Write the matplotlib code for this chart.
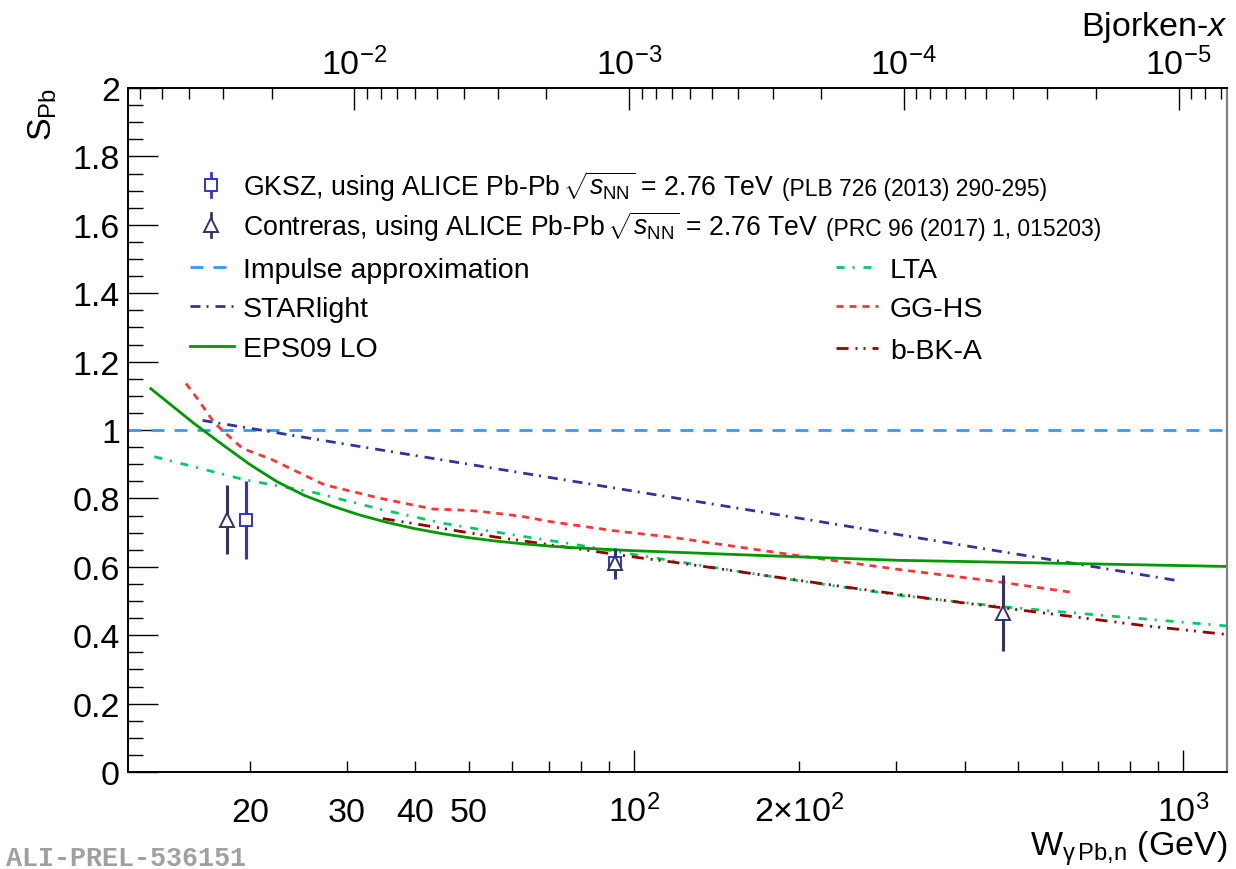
import numpy as np
import matplotlib
matplotlib.use('Agg')
import matplotlib.pyplot as plt
from matplotlib.ticker import FixedLocator, FuncFormatter
from matplotlib.lines import Line2D

plt.rcParams['font.family'] = ['Liberation Sans', 'DejaVu Sans']
plt.rcParams['mathtext.fontset'] = 'custom'
plt.rcParams['mathtext.rm'] = 'Liberation Sans'
plt.rcParams['mathtext.it'] = 'Liberation Sans:italic'
plt.rcParams['mathtext.bf'] = 'Liberation Sans:bold'
plt.rcParams['lines.scale_dashes'] = False

# ---------------- data ----------------
gksz_W = [19.7, 92.4]
gksz_S = [0.738, 0.610]
gksz_err = [0.114, 0.045]

contreras_W = [18.2, 92.4, 469]
contreras_S = [0.738, 0.612, 0.465]
contreras_err = [0.100, 0.040, 0.110]

impulse_W = [12, 1200]
impulse_S = [1.0, 1.0]

starlight_W = [16.4, 20, 30, 50, 100, 200, 400, 700, 980]
starlight_S = [1.028, 1.005, 0.958, 0.900, 0.821, 0.742, 0.662, 0.598, 0.559]

eps09_W = [13.2, 14.1, 15.8, 17.8, 20.0, 22.4, 25.1, 28.2, 31.6, 35.5, 39.8, 44.7, 50.1,
           56.2, 63.1, 70.8, 79.4, 100, 126, 158, 200, 302, 562, 1200]
eps09_S = [1.121, 1.084, 1.020, 0.958, 0.899, 0.849, 0.809, 0.778, 0.752, 0.730, 0.712, 0.697, 0.685,
           0.675, 0.667, 0.660, 0.655, 0.647, 0.641, 0.635, 0.629, 0.619, 0.611, 0.601]

lta_W = [13.4, 19.5, 26.2, 34.6, 45, 61, 75, 100, 150, 200, 310, 470, 700, 1200]
lta_S = [0.922, 0.855, 0.817, 0.768, 0.727, 0.692, 0.670, 0.636, 0.590, 0.559, 0.515, 0.483, 0.459, 0.427]

gghs_W = [15.3, 16.1, 17.2, 18.6, 19.4, 21.9, 27.3, 34.6, 43.0, 49.8, 52.5, 57.2, 62.2, 70.5, 92.4, 117.7, 200, 304, 461, 634]
gghs_S = [1.136, 1.089, 1.022, 0.972, 0.946, 0.914, 0.840, 0.800, 0.769, 0.765, 0.762, 0.755, 0.748, 0.732, 0.705, 0.686, 0.632, 0.592, 0.556, 0.524]

bbk_W = [34.9, 41.3, 48.1, 56, 65.3, 75.6, 87.5, 101.7, 118.7, 138, 161, 187, 250, 342, 469, 624, 848, 1200]
bbk_S = [0.741, 0.722, 0.704, 0.687, 0.672, 0.657, 0.642, 0.627, 0.613, 0.598, 0.582, 0.567, 0.538, 0.508, 0.480, 0.455, 0.428, 0.402]

x_labels = {20: '20', 30: '30', 40: '40', 50: '50', 100: r'$10^{2}$',
            200: r'$2{\times}10^{2}$', 1000: r'$10^{3}$'}
bj_major = [1e-2, 1e-3, 1e-4, 1e-5]
bj_labels = [r'$10^{-2}$', r'$10^{-3}$', r'$10^{-4}$', r'$10^{-5}$']
M_JPSI = 3.097

# ---------------- styles ----------------
C_IMP = '#3399ff'
C_STAR = '#333399'
C_EPS = '#009900'
C_LTA = '#00cc66'
C_GG = '#ff3333'
C_BBK = '#990000'
C_GKSZ = '#3333cc'
C_CON = '#333366'

P = 1 / 1.389  # px -> pt
LS_IMP = (0, (13 * P, 10 * P))
LS_STAR = (0, (10 * P, 6 * P, 2 * P, 7 * P))
LS_GG = (0, (7 * P, 6 * P))
LS_LTA = (0, (8 * P, 8 * P, 2 * P, 9 * P))
LS_BBK = (0, (12 * P, 7 * P, 2 * P, 6 * P, 2 * P, 7 * P))
LW = 2.0

FW, FH = 1236, 870
fig = plt.figure(figsize=(FW / 100, FH / 100), dpi=100)
L, R, T, B = 128, 1227, 89, 773
ax = fig.add_axes([L / FW, 1 - B / FH, (R - L) / FW, (B - T) / FH])

ax.set_xscale('log')
ax.set_xlim(12, 1200)
ax.set_ylim(0, 2)

# curves
ax.plot(impulse_W, impulse_S, color=C_IMP, lw=LW, ls=LS_IMP, zorder=2)
ax.plot(starlight_W, starlight_S, color=C_STAR, lw=LW, ls=LS_STAR, zorder=2)
ax.plot(gghs_W, gghs_S, color=C_GG, lw=LW, ls=LS_GG, zorder=2)
ax.plot(lta_W, lta_S, color=C_LTA, lw=LW, ls=LS_LTA, zorder=2)
ax.plot(bbk_W, bbk_S, color=C_BBK, lw=LW, ls=LS_BBK, zorder=2)
ax.plot(eps09_W, eps09_S, color=C_EPS, lw=LW, ls='-', zorder=2)

# data points
ax.errorbar(gksz_W, gksz_S, yerr=gksz_err, fmt='none', ecolor=C_GKSZ, elinewidth=2.2, capsize=0, zorder=3)
ax.errorbar(contreras_W, contreras_S, yerr=contreras_err, fmt='none', ecolor=C_CON, elinewidth=2.2, capsize=0, zorder=3)
ax.plot(gksz_W, gksz_S, ls='none', marker='s', ms=9, mfc='white', mec=C_GKSZ, mew=1.4, zorder=4)
ax.plot(contreras_W, contreras_S, ls='none', marker='^', ms=10, mfc='white', mec=C_CON, mew=1.4, zorder=5)

# ---------------- axes styling ----------------
for s in ['left', 'bottom', 'top']:
    ax.spines[s].set_linewidth(1.4)
    ax.spines[s].set_color('black')
ax.spines['right'].set_linewidth(1.6)
ax.spines['right'].set_color('#808080')

xmaj = [100, 1000]
xmin = [20, 30, 40, 50, 60, 70, 80, 90, 200, 300, 400, 500, 600, 700, 800, 900]
ax.xaxis.set_major_locator(FixedLocator(xmaj))
ax.xaxis.set_minor_locator(FixedLocator(xmin))
fmt = FuncFormatter(lambda v, p: x_labels.get(int(round(v)), ''))
ax.xaxis.set_major_formatter(fmt)
ax.xaxis.set_minor_formatter(fmt)
ax.tick_params(axis='x', which='major', direction='in', length=22 * P, width=1.0,
               top=False, bottom=True, labelsize=24.5, pad=49 * P)
ax.tick_params(axis='x', which='minor', direction='in', length=11 * P, width=1.0,
               top=False, bottom=True, labelsize=24.5, pad=49 * P)

ax.yaxis.set_major_locator(FixedLocator(np.arange(0, 2.01, 0.2)))
ax.yaxis.set_minor_locator(FixedLocator(np.arange(0, 2.001, 0.05)))
ax.yaxis.set_major_formatter(FuncFormatter(lambda v, p: '%g' % round(v, 2)))
ax.tick_params(axis='y', which='major', direction='in', length=30 * P, width=1.0,
               left=True, right=False, labelsize=24.5, pad=8 * P)
ax.tick_params(axis='y', which='minor', direction='in', length=15 * P, width=1.0,
               left=True, right=False)

# top axis: Bjorken-x
ax2 = ax.twiny()
ax2.set_xscale('log')
ax2.set_xlim(ax.get_xlim())
for s in ax2.spines.values():
    s.set_visible(False)
bj_minor = [k * 10.0 ** n for n in range(-2, -7, -1) for k in range(2, 10)]
W_min = [M_JPSI / np.sqrt(v) for v in bj_minor]
W_min = [w for w in W_min if 12 < w < 1200]
W_maj = [M_JPSI / np.sqrt(v) for v in bj_major]
ax2.xaxis.set_major_locator(FixedLocator(W_maj))
ax2.xaxis.set_minor_locator(FixedLocator(sorted(W_min)))
lab_map = dict(zip([round(w, 3) for w in W_maj], bj_labels))
ax2.xaxis.set_major_formatter(FuncFormatter(lambda v, p: lab_map.get(round(v, 3), '')))
ax2.xaxis.set_minor_formatter(FuncFormatter(lambda v, p: ''))
ax2.tick_params(axis='x', which='major', direction='in', length=22 * P, width=1.0,
                top=True, bottom=False, labeltop=True, labelbottom=False,
                labelsize=24.5, pad=14 * P)
ax2.tick_params(axis='x', which='minor', direction='in', length=11 * P, width=1.0,
                top=True, bottom=False)

fig.canvas.draw()
for t in ax.xaxis.get_major_ticks() + ax.xaxis.get_minor_ticks():
    t.label1.set_verticalalignment('baseline')
for t in ax2.xaxis.get_major_ticks():
    t.label2.set_verticalalignment('baseline')

# ---------------- titles ----------------
def fx(x):
    return x / FW

def fy(y):
    return 1 - y / FH

fig.text(fx(1228), fy(856), r'W$_{\mathrm{γ\,Pb{,}n}}$ (GeV)', ha='right', va='baseline', fontsize=24.5)
fig.text(fx(1228), fy(36), r'Bjorken-$x$', ha='right', va='baseline', fontsize=24.5)
fig.text(fx(43), fy(88), r'S$_{\mathrm{Pb}}$', ha='center', va='top', rotation=90, fontsize=24.5)
fig.text(fx(6), fy(866), 'ALI-PREL-536151', ha='left', va='baseline', fontsize=19.3,
         family='Liberation Mono', fontweight='bold', color='#a0a0a0')

# ---------------- legend ----------------
FS_LEG = 20.5
FS_LEG_DATA = 19.2
FS_REF = 16.5
rows_left = [186, 226, 268, 307, 347]
rows_right = [268, 307, 349]
xs0, xs1, xtxt = 190, 234, 243
xr0, xr1, xrtxt = 836, 878, 890

def seg(x0, x1, y, **kw):
    fig.add_artist(Line2D([fx(x0), fx(x1)], [fy(y), fy(y)], transform=fig.transFigure, **kw))

# markers
xm = 211
fig.add_artist(Line2D([fx(xm), fx(xm)], [fy(rows_left[0] - 12), fy(rows_left[0] + 12)],
                      transform=fig.transFigure, color=C_GKSZ, lw=2.0))
fig.add_artist(Line2D([fx(xm)], [fy(rows_left[0])], transform=fig.transFigure, ls='none',
                      marker='s', ms=9, mfc='white', mec=C_GKSZ, mew=1.4))
fig.add_artist(Line2D([fx(xm), fx(xm)], [fy(rows_left[1] - 12), fy(rows_left[1] + 12)],
                      transform=fig.transFigure, color=C_CON, lw=2.0))
fig.add_artist(Line2D([fx(xm)], [fy(rows_left[1])], transform=fig.transFigure, ls='none',
                      marker='^', ms=10, mfc='white', mec=C_CON, mew=1.4))
seg(xs0, xs1, rows_left[2], color=C_IMP, lw=LW, ls=LS_IMP)
seg(xs0, xs1, rows_left[3], color=C_STAR, lw=LW, ls=LS_STAR)
seg(xs0, xs1, rows_left[4], color=C_EPS, lw=LW, ls='-')
seg(xr0, xr1, rows_right[0], color=C_LTA, lw=LW, ls=LS_LTA)
seg(xr0, xr1, rows_right[1], color=C_GG, lw=LW, ls=LS_GG)
seg(xr0, xr1, rows_right[2], color=C_BBK, lw=LW, ls=LS_BBK)

main_labels = [r'GKSZ, using ALICE Pb-Pb $\!\sqrt{s_{\mathrm{NN}}}$ = 2.76 TeV',
               r'Contreras, using ALICE Pb-Pb $\!\sqrt{s_{\mathrm{NN}}}$ = 2.76 TeV',
               'Impulse approximation', 'STARlight', 'EPS09 LO']
ref_labels = ['(PLB 726 (2013) 290-295)', '(PRC 96 (2017) 1, 015203)']
right_labels = ['LTA', 'GG-HS', 'b-BK-A']

texts = []
for i, (y, lab) in enumerate(zip(rows_left, main_labels)):
    fs = FS_LEG_DATA if i < 2 else FS_LEG
    texts.append(fig.text(fx(xtxt), fy(y + 10), lab, ha='left', va='baseline', fontsize=fs))
for y, lab in zip(rows_right, right_labels):
    fig.text(fx(xrtxt), fy(y + 10), lab, ha='left', va='baseline', fontsize=FS_LEG)

fig.canvas.draw()
rend = fig.canvas.get_renderer()
for i, lab in enumerate(ref_labels):
    bb = texts[i].get_window_extent(rend)
    fig.text((bb.x1 + 8) / FW, fy(rows_left[i] + 10), lab, ha='left', va='baseline', fontsize=FS_REF)

fig.savefig('out.png', dpi=100)
